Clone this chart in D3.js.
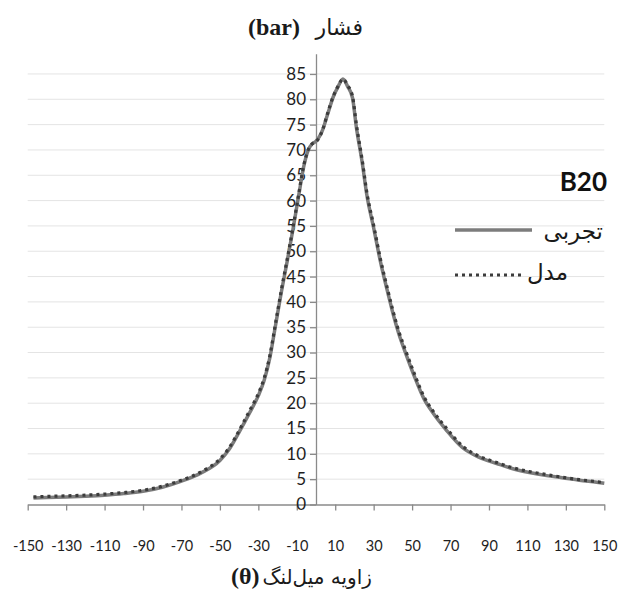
<!DOCTYPE html>
<html>
<head>
<meta charset="utf-8">
<script src="https://cdn.jsdelivr.net/npm/d3@7"></script>
<style>
  body { margin: 0; background: #fff; }
  svg { display: block; }
</style>
</head>
<body>
<div id="main"></div>
<script>
// crank angle (deg) and pressure (bar)
const theta = [-147, -140, -130, -120, -110, -100, -90, -80, -70, -60, -50, -45, -40, -35, -30, -27, -24, -21, -18, -15, -12, -9, -6.5, -4, -2, 0, 3.5, 6, 9, 11.5, 14, 16.5, 19, 21, 24, 26.5, 30, 33.5, 37.5, 40, 43, 47, 51.5, 56, 61, 68, 76, 85, 94, 102, 111, 120, 128, 137, 146, 150];
const experimental = [1.3, 1.4, 1.5, 1.65, 1.85, 2.15, 2.6, 3.4, 4.6, 6.2, 8.7, 11, 14.3, 17.8, 21.5, 24.5, 29, 35.5, 42, 48, 54.3, 61, 66.5, 70, 71.2, 71.7, 74, 77, 80.5, 82.5, 84, 82.5, 80.3, 74.5, 67.6, 61, 54.6, 48, 41.6, 37.8, 33.8, 29.5, 25, 21, 18, 14.6, 11.3, 9.3, 8.1, 7.1, 6.3, 5.7, 5.3, 4.8, 4.4, 4.2];
const model = [1.5, 1.6, 1.7, 1.85, 2.05, 2.35, 2.8, 3.6, 4.8, 6.4, 9, 11.3, 14.6, 18.2, 21.9, 24.9, 29.4, 35.9, 42.4, 48.4, 54.6, 61.3, 66.7, 70.1, 71.2, 71.6, 74, 77.2, 80.6, 82.6, 84, 82.7, 80.6, 75, 68.1, 61.5, 55.1, 48.5, 42.1, 38.3, 34.3, 30, 25.5, 21.4, 18.4, 15, 11.6, 9.5, 8.3, 7.3, 6.5, 5.9, 5.4, 4.9, 4.5, 4.3];
const xTicks = [-150, -130, -110, -90, -70, -50, -30, -10, 10, 30, 50, 70, 90, 110, 130, 150];
const yTicks = d3.range(0, 90, 5);

const width = 622;
const height = 592;

const svg = d3.select("#main").append("svg")
    .attr("width", width)
    .attr("height", height);

const x = d3.scaleLinear().domain([-150, 150]).range([27.7, 604.3]);
const y = d3.scaleLinear().domain([0, 89]).range([504.5, 53.7]);

// grid
svg.append("g")
   .selectAll("line")
   .data(yTicks.filter(d => d > 0))
   .enter()
   .append("line")
   .attr("x1", x(-150))
   .attr("x2", x(150))
   .attr("y1", d => y(d))
   .attr("y2", d => y(d))
   .attr("stroke", "#e4e4e4")
   .attr("stroke-width", 1);

// x axis
const xAxis = svg.append("g")
   .attr("transform", `translate(0,${y(0)})`)
   .call(d3.axisBottom(x).tickValues(xTicks).tickSize(6).tickSizeOuter(0).tickFormat(d => String(d)));
xAxis.select(".domain").attr("stroke", "#8a8a8a").attr("stroke-width", 1.3);
xAxis.selectAll(".tick line").attr("stroke", "#8a8a8a").attr("stroke-width", 1.3);
xAxis.selectAll(".tick text")
   .attr("y", 36)
   .attr("font-family", "Lato, 'Open Sans', sans-serif")
   .attr("font-size", 14.5)
   .attr("fill", "#1e1e1e");

// y axis
const yAxis = svg.append("g")
   .attr("transform", `translate(${x(0)},0)`)
   .call(d3.axisLeft(y).tickValues(yTicks).tickSize(6).tickSizeOuter(0));
yAxis.select(".domain").attr("stroke", "#8a8a8a").attr("stroke-width", 1.3);
yAxis.selectAll(".tick line").attr("stroke", "#8a8a8a").attr("stroke-width", 1.3);
yAxis.selectAll(".tick text")
   .attr("x", -10)
   .attr("font-family", "Lato, 'Open Sans', sans-serif")
   .attr("font-size", 17)
   .attr("fill", "#1e1e1e");

const line = d3.line()
   .x((d, i) => x(theta[i]))
   .y(d => y(d))
   .curve(d3.curveMonotoneX);

svg.append("path")
   .datum(experimental)
   .attr("d", line)
   .attr("fill", "none")
   .attr("stroke", "#7c7c7c")
   .attr("stroke-width", 3.5);

svg.append("path")
   .datum(model)
   .attr("d", line)
   .attr("fill", "none")
   .attr("stroke", "#3c3c3c")
   .attr("stroke-width", 3.2)
   .attr("stroke-dasharray", "3,4");

// titles
svg.append("text")
   .attr("x", 300).attr("y", 35)
   .attr("text-anchor", "end")
   .attr("font-family", "'Liberation Serif', serif")
   .attr("font-weight", "bold")
   .attr("font-size", 24)
   .attr("fill", "#1a1a1a")
   .text("(bar)");
svg.append("text")
   .attr("x", 363).attr("y", 35)
   .attr("text-anchor", "end")
   .attr("font-family", "'DejaVu Sans', sans-serif")
   .attr("font-size", 22)
   .attr("fill", "#1a1a1a")
   .text("فشار");

svg.append("text")
   .attr("x", 231).attr("y", 584)
   .attr("font-family", "'Liberation Serif', serif")
   .attr("font-weight", "bold")
   .attr("font-size", 24)
   .attr("fill", "#1a1a1a")
   .text("(θ)");
svg.append("text")
   .attr("x", 372).attr("y", 584)
   .attr("text-anchor", "end")
   .attr("font-family", "'DejaVu Sans', sans-serif")
   .attr("font-size", 20)
   .attr("fill", "#1a1a1a")
   .text("زاویه میل‌لنگ");

// legend
svg.append("text")
   .attr("x", 607).attr("y", 191)
   .attr("text-anchor", "end")
   .attr("font-family", "Lato, 'Open Sans', sans-serif")
   .attr("font-weight", "bold")
   .attr("font-size", 26)
   .attr("fill", "#111")
   .text("B20");

svg.append("line")
   .attr("x1", 455).attr("x2", 532).attr("y1", 230).attr("y2", 230)
   .attr("stroke", "#7c7c7c").attr("stroke-width", 3.5);
svg.append("text")
   .attr("x", 603).attr("y", 239)
   .attr("text-anchor", "end")
   .attr("font-family", "'DejaVu Sans', sans-serif")
   .attr("font-size", 23)
   .attr("fill", "#1a1a1a")
   .text("تجربی");

svg.append("line")
   .attr("x1", 455).attr("x2", 522).attr("y1", 275).attr("y2", 275)
   .attr("stroke", "#3c3c3c").attr("stroke-width", 3.2)
   .attr("stroke-dasharray", "3,4");
svg.append("text")
   .attr("x", 568).attr("y", 280)
   .attr("text-anchor", "end")
   .attr("font-family", "'DejaVu Sans', sans-serif")
   .attr("font-size", 23)
   .attr("fill", "#1a1a1a")
   .text("مدل");
</script>
</body>
</html>
